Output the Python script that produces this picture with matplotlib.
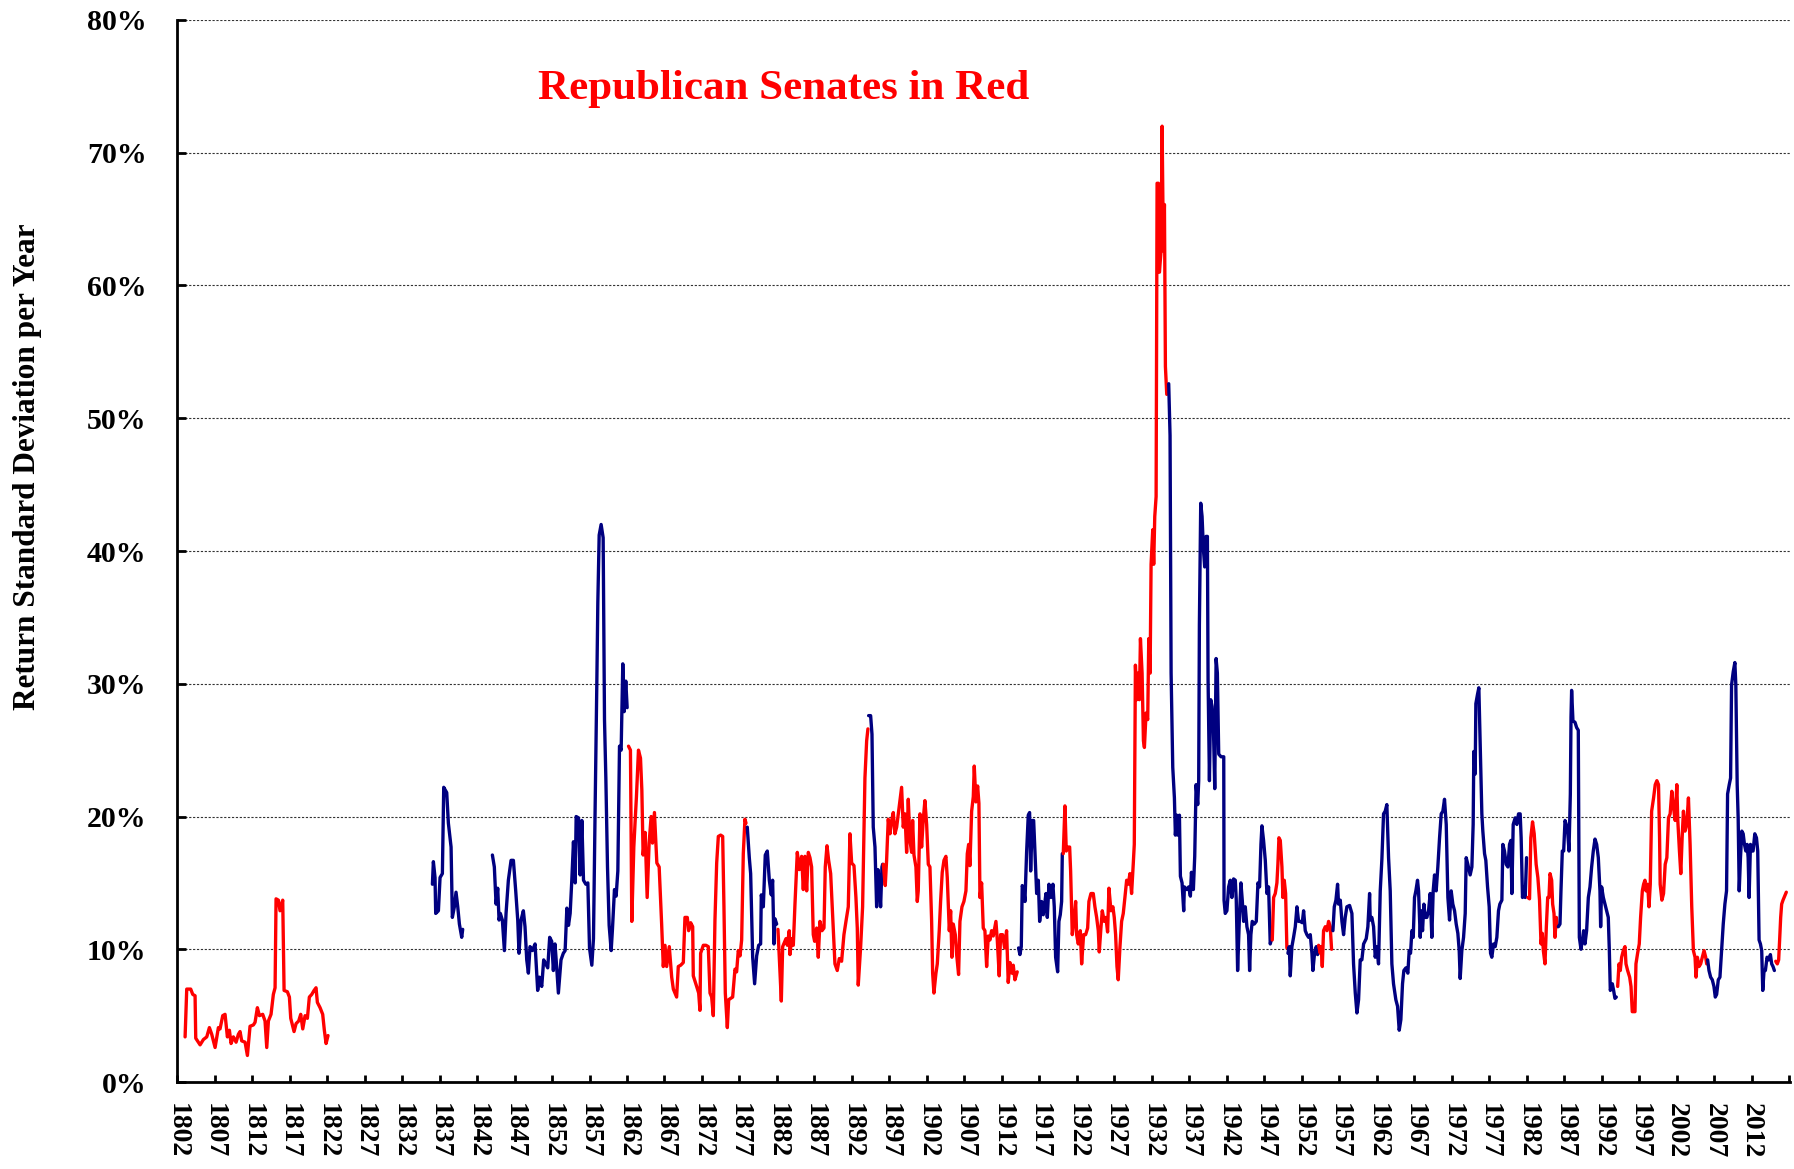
import numpy as np
import matplotlib
matplotlib.use("Agg")
import matplotlib.pyplot as plt

# Rolling return standard deviation (% per year), by era.
yr_1803 = [1803.07, 1803.29, 1803.82, 1804.09, 1804.40, 1804.49, 1805.07, 1805.51, 1805.96, 1806.31,
           1806.62, 1807.07, 1807.51, 1807.73, 1808.09, 1808.40, 1808.71, 1808.98, 1809.20, 1809.51,
           1809.87, 1810.18, 1810.40, 1810.62, 1811.07, 1811.38, 1811.73, 1812.18, 1812.40, 1812.71,
           1812.98, 1813.42, 1813.73, 1813.96, 1814.18, 1814.53, 1814.84, 1815.07, 1815.20, 1815.51,
           1815.73, 1816.09, 1816.27, 1816.71, 1816.98, 1817.16, 1817.60, 1817.87, 1818.22, 1818.49,
           1818.76, 1819.07, 1819.38, 1819.64, 1819.96, 1820.27, 1820.53, 1820.71, 1821.07, 1821.42,
           1821.64, 1821.87, 1822.13]
sd_1803 = [3.4, 7.0, 7.0, 6.6, 6.5, 3.3, 2.8, 3.2, 3.4, 4.1,
           3.6, 2.6, 4.1, 4.0, 5.0, 5.1, 3.4, 3.9, 2.9, 3.4,
           3.0, 3.6, 3.8, 3.1, 3.0, 2.0, 4.2, 4.3, 4.5, 5.6,
           5.0, 5.1, 4.6, 2.6, 4.6, 5.1, 6.6, 7.1, 13.8, 13.7,
           12.9, 13.7, 6.9, 6.8, 6.4, 4.8, 3.8, 4.4, 4.6, 5.1,
           4.0, 5.0, 4.8, 6.4, 6.6, 6.9, 7.1, 6.0, 5.6, 5.1,
           3.9, 2.9, 3.5]

yr_1836 = [1836.05, 1836.18, 1836.40, 1836.49, 1836.85, 1837.07, 1837.38, 1837.56, 1837.96, 1838.18,
           1838.54, 1838.71, 1838.98, 1839.20, 1839.43, 1839.65, 1839.96, 1840.09]
sd_1836 = [14.9, 16.6, 15.4, 12.7, 12.9, 15.4, 15.7, 22.2, 21.8, 19.5,
           17.7, 12.4, 13.2, 14.3, 13.2, 11.9, 10.9, 11.5]

yr_1844 = [1844.05, 1844.31, 1844.54, 1844.76, 1844.94, 1845.11, 1845.38, 1845.65, 1845.87, 1846.18,
           1846.54, 1846.85, 1847.16, 1847.43, 1847.60, 1847.87, 1848.18, 1848.40, 1848.63, 1848.85,
           1849.07, 1849.38, 1849.74, 1850.09, 1850.31, 1850.63, 1850.89, 1851.16, 1851.43, 1851.69,
           1851.96, 1852.18, 1852.40, 1852.63, 1852.85, 1853.20, 1853.51,
           1853.75, 1853.98, 1854.20, 1854.42, 1854.64, 1854.86, 1855.09, 1855.22, 1855.53, 1855.75,
           1855.98, 1856.20, 1856.51, 1856.78, 1857.00, 1857.31, 1857.53, 1857.75, 1857.98, 1858.11,
           1858.29, 1858.55, 1858.82, 1859.00, 1859.18, 1859.40, 1859.62, 1859.89, 1860.06, 1860.33,
           1860.55, 1860.78, 1861.00, 1861.22, 1861.44, 1861.62, 1861.84, 1862.02,
           1862.20, 1862.46, 1862.64, 1862.91, 1863.09, 1863.26, 1863.53, 1863.80, 1863.98, 1864.15,
           1864.42, 1864.69, 1864.95, 1865.22, 1865.40, 1865.66, 1865.98, 1866.29]
sd_1844 = [17.1, 16.2, 13.4, 14.6, 12.2, 12.7, 12.2, 9.9, 12.7, 15.2,
           16.7, 16.7, 14.4, 12.2, 9.7, 12.2, 12.9, 11.7, 9.2, 8.2,
           10.2, 9.9, 10.4, 6.9, 7.9, 7.2, 9.2, 8.9, 8.6, 10.9,
           10.6, 8.4, 10.4, 8.6, 6.7, 9.2, 9.7,
           9.9, 13.1, 11.8, 12.7, 15.2, 18.1, 15.0, 20.0, 19.9, 15.6,
           19.7, 15.2, 14.9, 15.0, 10.1, 8.8, 10.8, 20.6, 30.2, 36.1,
           41.2, 42.0, 41.0, 27.3, 22.9, 16.2, 11.8, 9.9, 11.5, 14.5,
           14.0, 15.9, 25.3, 25.0, 31.5, 27.9, 30.2, 28.2,
           25.3, 25.0, 12.1, 17.7, 19.7, 21.5, 25.0, 24.4, 22.0, 17.1,
           18.8, 13.9, 18.0, 20.0, 18.0, 20.3, 16.5, 16.2]

yr_1866 = [1866.62, 1866.84, 1867.07, 1867.29, 1867.64, 1867.96, 1868.18, 1868.62, 1868.84, 1869.16,
           1869.51, 1869.73, 1870.04, 1870.22, 1870.49, 1870.76, 1870.84, 1871.29, 1871.56, 1871.73,
           1871.82, 1872.18, 1872.53, 1872.84, 1873.07, 1873.29, 1873.51, 1873.73, 1873.96, 1874.18,
           1874.49, 1874.76, 1874.93, 1875.11, 1875.38, 1875.56, 1875.82, 1876.09, 1876.40, 1876.62,
           1876.84, 1877.07, 1877.29, 1877.51, 1877.73, 1877.87,
           1878.04, 1878.31, 1878.49, 1878.76, 1879.02, 1879.29, 1879.56, 1879.82, 1879.91, 1880.18,
           1880.44, 1880.71, 1880.98, 1881.24, 1881.42, 1881.60, 1881.73, 1881.96,
           1882.13, 1882.31, 1882.58, 1882.76, 1883.20, 1883.38, 1883.64, 1883.73, 1883.96, 1884.18,
           1884.40, 1884.71, 1884.98, 1885.29, 1885.51, 1885.73, 1885.96, 1886.18, 1886.40, 1886.62,
           1886.84, 1887.02, 1887.29, 1887.51, 1887.73, 1888.00, 1888.27, 1888.44, 1888.67, 1888.89,
           1889.16, 1889.42, 1889.73, 1890.04, 1890.31, 1890.62, 1890.93, 1891.20, 1891.51, 1891.73,
           1891.96, 1892.27, 1892.53, 1892.71, 1892.84, 1893.16, 1893.42, 1893.73, 1893.96, 1894.13,
           1894.22, 1894.49, 1894.67, 1894.84, 1895.07, 1895.29, 1895.47, 1895.64, 1895.82, 1896.00,
           1896.09,
           1896.18, 1896.44, 1896.62, 1896.84, 1897.07, 1897.29, 1897.51, 1897.73, 1897.96]
sd_1866 = [11.9, 8.7, 10.3, 8.7, 10.2, 7.9, 7.0, 6.4, 8.7, 8.8,
           9.0, 12.4, 12.4, 11.4, 12.0, 11.7, 8.0, 7.2, 6.7, 5.4,
           9.7, 10.3, 10.3, 10.2, 6.7, 6.4, 5.0, 12.2, 16.5, 18.5,
           18.6, 18.5, 13.2, 6.7, 4.1, 6.2, 6.3, 6.4, 8.5, 8.3,
           9.9, 9.5, 10.7, 17.2, 19.8, 19.5,
           19.2, 16.9, 15.7, 9.4, 7.4, 9.5, 10.3, 10.4, 14.1, 13.2,
           17.1, 17.4, 15.2, 14.1, 15.2, 10.4, 12.3, 11.9,
           11.5, 9.4, 6.1, 10.2, 10.8, 10.3, 11.4, 9.6, 10.8, 10.3,
           13.4, 17.3, 16.0, 17.0, 14.5, 17.0, 14.4, 17.3, 16.9, 16.2,
           11.1, 10.6, 11.6, 9.4, 12.1, 11.4, 11.6, 16.2, 17.8, 16.7,
           15.7, 12.6, 8.9, 8.4, 9.3, 9.1, 11.1, 12.1, 13.2, 18.7,
           16.5, 16.3, 13.9, 11.6, 7.3, 10.2, 13.2, 22.9, 25.7, 26.6,
           27.6, 27.6, 26.2, 19.2, 17.7, 13.2, 16.0, 15.2, 13.2, 16.2,
           16.4,
           16.4, 14.8, 16.7, 19.8, 18.7, 19.7, 20.3, 18.7, 19.2]

yr_1898 = [1898.62, 1898.84, 1899.07, 1899.29, 1899.51, 1899.73, 1899.96, 1900.09, 1900.27, 1900.53,
           1900.71, 1900.84, 1901.07, 1901.29, 1901.51, 1901.73, 1901.96, 1902.18, 1902.40, 1902.62,
           1902.76, 1902.93, 1903.20, 1903.38, 1903.64, 1903.82, 1904.04, 1904.27, 1904.53, 1904.71,
           1904.98, 1905.16, 1905.33, 1905.51, 1905.78, 1905.96, 1906.22, 1906.40, 1906.67, 1906.93,
           1907.20, 1907.38, 1907.56, 1907.73, 1907.96, 1908.18, 1908.31, 1908.53, 1908.76, 1908.93,
           1909.07, 1909.29, 1909.51, 1909.73, 1909.96, 1910.18, 1910.40, 1910.62, 1910.84, 1911.20,
           1911.38, 1911.64, 1911.82, 1912.09, 1912.36, 1912.62, 1912.84, 1913.07, 1913.33, 1913.51,
           1913.73, 1914.04,
           1914.22, 1914.40, 1914.58, 1914.71, 1914.93, 1915.07, 1915.29, 1915.51, 1915.69, 1915.83,
           1916.05, 1916.23, 1916.40, 1916.63, 1916.85, 1917.03, 1917.29, 1917.51, 1917.74, 1917.87,
           1918.05, 1918.27, 1918.54, 1918.80, 1918.98, 1919.16, 1919.43, 1919.60, 1919.78, 1919.96,
           1920.05,
           1920.18, 1920.40, 1920.58, 1920.85, 1921.03, 1921.16, 1921.38, 1921.65, 1921.83, 1921.96,
           1922.18, 1922.45, 1922.63, 1922.89, 1923.16, 1923.43, 1923.60, 1923.87, 1924.18, 1924.40,
           1924.63, 1924.85, 1924.98, 1925.20, 1925.38, 1925.65, 1925.87, 1926.09, 1926.27, 1926.54,
           1926.80, 1926.98, 1927.16, 1927.34, 1927.51, 1927.74, 1927.96, 1928.18, 1928.40, 1928.63,
           1928.85, 1929.07, 1929.29, 1929.51, 1929.65]
sd_1898 = [22.2, 19.2, 20.2, 17.3, 21.3, 18.2, 17.3, 19.7, 17.1, 16.2,
           13.6, 14.4, 20.2, 17.7, 19.8, 21.2, 19.4, 16.4, 16.2, 12.2,
           8.2, 6.7, 8.2, 8.9, 11.4, 13.6, 15.8, 16.7, 17.0, 15.4,
           11.4, 12.9, 9.4, 11.9, 11.1, 9.6, 8.1, 12.1, 13.2, 13.6,
           14.4, 17.2, 17.9, 16.3, 20.4, 21.5, 23.8, 21.1, 22.3, 21.0,
           13.9, 15.0, 11.6, 11.4, 8.7, 11.0, 10.7, 11.4, 11.0, 12.1,
           10.7, 8.0, 11.1, 11.1, 10.1, 11.4, 7.5, 9.0, 8.2, 8.8,
           7.7, 8.3,
           10.1, 9.6, 10.2, 14.8, 14.4, 13.6, 17.3, 20.1, 20.3, 15.9,
           19.7, 19.7, 17.4, 14.2, 15.2, 12.1, 13.6, 12.6, 13.6, 14.2,
           12.4, 14.9, 13.9, 14.9, 13.2, 9.4, 8.3, 12.1, 12.6, 13.6,
           17.2,
           17.2, 20.8, 17.4, 17.7, 17.7, 15.9, 11.1, 12.4, 13.6, 11.1,
           10.4, 11.4, 8.9, 11.1, 11.1, 11.6, 13.6, 14.2, 14.2, 13.2,
           12.4, 11.4, 9.8, 11.6, 12.9, 12.1, 12.4, 11.3, 14.6, 12.9,
           13.2, 12.4, 11.1, 8.7, 7.7, 10.2, 12.1, 12.7, 13.9, 15.2,
           14.9, 15.7, 14.2, 16.4, 17.9]

yr_1929 = [1929.80, 1929.98, 1930.11, 1930.33, 1930.47, 1930.69, 1930.87, 1931.00, 1931.22, 1931.44,
           1931.58, 1931.76, 1931.89, 1932.11, 1932.24, 1932.38, 1932.56, 1932.69, 1932.87, 1933.00,
           1933.22, 1933.36, 1933.53, 1933.67, 1933.80, 1933.98,
           1934.24, 1934.42, 1934.56, 1934.78, 1935.00, 1935.13, 1935.31, 1935.44, 1935.67, 1935.80,
           1936.02, 1936.24, 1936.33, 1936.64, 1936.91, 1937.13, 1937.27, 1937.53, 1937.71, 1937.89,
           1938.11, 1938.24, 1938.33, 1938.51, 1938.69, 1938.87, 1939.04, 1939.22, 1939.40, 1939.49,
           1939.67, 1939.84, 1940.02, 1940.20, 1940.38, 1940.56, 1940.73, 1940.91, 1941.22, 1941.58,
           1941.62, 1941.78, 1942.00, 1942.23, 1942.45, 1942.67, 1942.89, 1943.12, 1943.25, 1943.43,
           1943.69, 1943.87, 1944.05, 1944.23, 1944.45, 1944.67, 1944.89, 1945.03, 1945.20, 1945.38,
           1945.65, 1945.92, 1946.14, 1946.36, 1946.54, 1946.67, 1946.89, 1947.12, 1947.34, 1947.56,
           1947.78, 1947.92]
sd_1929 = [31.4, 28.8, 30.8, 28.8, 33.4, 30.8, 25.7, 25.2, 27.8, 27.3,
           33.4, 30.8, 39.0, 41.6, 39.0, 42.6, 44.1, 67.7, 67.7, 61.0,
           62.6, 72.0, 62.6, 66.1, 53.9, 51.8,
           52.6, 48.7, 30.8, 23.7, 21.4, 18.6, 20.1, 18.6, 20.1, 15.5,
           15.0, 12.9, 14.7, 14.5, 14.7, 14.0, 15.8, 14.5, 17.0, 22.4,
           20.9, 22.7, 34.4, 43.6, 42.6, 40.1, 38.8, 41.1, 41.1, 30.3,
           22.7, 28.8, 28.3, 26.8, 22.1, 31.9, 30.8, 24.7, 24.5, 24.5,
           13.7, 12.7, 12.9, 14.7, 15.2, 13.9, 15.3, 15.2, 13.7, 8.4,
           12.7, 15.0, 13.7, 12.1, 13.2, 11.7, 11.1, 8.4, 11.1, 12.1,
           11.9, 12.1, 15.0, 14.7, 17.9, 19.3, 18.2, 16.7, 14.2, 14.7,
           10.4, 10.7]

yr_1948 = [1948.05, 1948.23, 1948.45, 1948.67, 1948.80, 1948.94, 1949.12, 1949.34, 1949.47, 1949.65,
           1949.83, 1950.00,
           1950.14, 1950.32, 1950.45, 1950.67, 1950.89, 1951.12, 1951.34, 1951.56, 1951.78, 1952.05,
           1952.23, 1952.45, 1952.67, 1952.89, 1953.12, 1953.34, 1953.47, 1953.69, 1953.92, 1954.09,
           1954.23, 1954.45, 1954.58, 1954.72, 1954.89, 1955.12, 1955.34, 1955.56, 1955.78, 1955.96,
           1956.14, 1956.32, 1956.54, 1956.76, 1956.89, 1957.12, 1957.34, 1957.56, 1957.78, 1958.00,
           1958.36, 1958.67, 1958.89, 1959.12, 1959.34, 1959.56, 1959.78, 1960.00, 1960.23, 1960.58,
           1960.80, 1961.03,
           1961.11, 1961.33, 1961.56, 1961.78, 1962.00, 1962.22, 1962.45, 1962.67, 1962.89, 1963.11,
           1963.33, 1963.56, 1963.78, 1964.00, 1964.22, 1964.53, 1964.76, 1964.98, 1965.20, 1965.42,
           1965.60, 1965.87, 1966.13, 1966.31, 1966.49, 1966.67, 1966.85, 1967.02, 1967.20, 1967.42,
           1967.56, 1967.78, 1967.91, 1968.09, 1968.27, 1968.45, 1968.67, 1968.89, 1969.11, 1969.33,
           1969.51, 1969.69, 1969.91, 1970.13, 1970.36, 1970.58, 1970.80, 1971.02, 1971.25, 1971.47,
           1971.69, 1971.91, 1972.13, 1972.36, 1972.58, 1972.80, 1972.98, 1973.11, 1973.33, 1973.56,
           1973.78, 1973.91, 1974.13, 1974.44, 1974.67, 1974.84, 1974.93, 1975.11, 1975.20, 1975.42,
           1975.60, 1975.78, 1976.00, 1976.13, 1976.36, 1976.53, 1976.76, 1976.98, 1977.16, 1977.33,
           1977.56, 1977.78, 1978.00, 1978.22, 1978.40, 1978.67, 1978.80, 1979.02, 1979.24, 1979.47,
           1979.69, 1979.87, 1980.00, 1980.18, 1980.45, 1980.67, 1980.89, 1981.11, 1981.24, 1981.42,
           1981.60, 1981.78, 1981.96]
sd_1948 = [10.7, 13.9, 14.2, 15.0, 16.4, 18.4, 18.2, 16.2, 13.9, 15.2,
           14.2, 10.1,
           9.7, 10.2, 8.0, 10.2, 10.9, 11.7, 13.2, 12.1, 12.1, 12.0,
           12.9, 11.4, 11.1, 10.9, 11.1, 9.7, 8.4, 9.7, 10.2, 9.6,
           10.3, 9.7, 10.2, 8.7, 11.4, 11.7, 11.4, 12.1, 11.7, 10.0,
           11.4, 13.2, 13.7, 14.9, 13.4, 13.7, 12.1, 11.1, 12.4, 13.2,
           13.3, 12.7, 8.9, 6.7, 5.2, 6.2, 9.2, 9.2, 10.4, 10.8,
           11.7, 14.2,
           12.2, 12.4, 11.7, 9.4, 10.2, 8.9, 14.4, 16.8, 20.2, 20.4,
           20.9, 16.9, 14.4, 8.9, 7.4, 6.2, 5.7, 3.9, 4.7, 7.4,
           8.4, 8.6, 8.2, 9.9, 9.7, 11.4, 10.9, 13.9, 14.4, 15.2,
           14.4, 10.9, 12.9, 11.4, 13.4, 12.4, 12.4, 12.9, 14.2, 10.9,
           14.4, 15.6, 14.4, 16.2, 18.4, 20.2, 20.4, 21.3, 19.4, 13.9,
           12.2, 14.4, 13.4, 12.9, 11.9, 11.2, 9.9, 7.8, 9.9, 10.9,
           12.7, 16.9, 16.4, 15.6, 16.2, 19.4, 24.9, 23.2, 28.5, 29.2,
           29.7, 25.4, 20.2, 18.9, 17.2, 16.7, 14.7, 13.2, 9.7, 9.4,
           10.4, 10.2, 10.9, 12.9, 13.4, 13.7, 17.9, 17.4, 16.4, 16.2,
           17.9, 18.2, 14.2, 19.4, 19.9, 19.4, 20.2, 20.2, 18.4, 13.9,
           14.7, 13.9, 16.9]

yr_1982 = [1982.13, 1982.36, 1982.53, 1982.76, 1982.98, 1983.24, 1983.47, 1983.69, 1983.89, 1984.06,
           1984.20, 1984.42, 1984.60, 1984.78, 1984.95, 1985.09, 1985.31, 1985.44, 1985.62, 1985.75,
           1985.93, 1986.06,
           1986.20, 1986.42, 1986.55, 1986.73, 1986.91, 1987.09, 1987.26, 1987.44, 1987.62, 1987.80,
           1987.89, 1987.97, 1988.15, 1988.42, 1988.64, 1988.86, 1989.00, 1989.22, 1989.40, 1989.57,
           1989.75, 1989.97, 1990.20, 1990.42, 1990.64, 1990.86, 1991.09, 1991.31, 1991.53, 1991.75,
           1991.84, 1991.97, 1992.20, 1992.42, 1992.64, 1992.86, 1993.00, 1993.13, 1993.40, 1993.57,
           1993.75, 1993.93,
           1994.11, 1994.29, 1994.46, 1994.64, 1994.86, 1995.09, 1995.22, 1995.44, 1995.71, 1995.89,
           1996.06, 1996.42, 1996.55, 1996.77, 1996.99, 1997.17, 1997.40, 1997.57, 1997.75, 1997.89,
           1998.11, 1998.29, 1998.46, 1998.64, 1998.90, 1999.12, 1999.34, 1999.56, 1999.70, 1999.78,
           2000.01, 2000.23, 2000.45, 2000.67, 2000.89, 2001.11, 2001.33, 2001.55, 2001.78, 2002.00,
           2002.13, 2002.35, 2002.53, 2002.71, 2002.88, 2003.10, 2003.32, 2003.55, 2003.77, 2003.99,
           2004.21, 2004.43, 2004.56, 2004.74, 2004.96, 2005.18, 2005.40, 2005.63, 2005.85, 2005.98,
           2006.11, 2006.29, 2006.51, 2006.73, 2006.95, 2007.13, 2007.31, 2007.53, 2007.75, 2007.97,
           2008.19, 2008.41, 2008.63, 2008.77, 2008.99, 2009.17, 2009.30, 2009.52, 2009.74, 2009.87,
           2010.05, 2010.18, 2010.32, 2010.49, 2010.67, 2010.85, 2011.02, 2011.20, 2011.38, 2011.51,
           2011.64, 2011.82, 2012.00, 2012.17, 2012.40, 2012.62, 2012.79, 2012.97, 2013.15, 2013.32,
           2013.46, 2013.63, 2013.81, 2014.03, 2014.25, 2014.48, 2014.65, 2014.83, 2015.01,
           2015.19, 2015.40, 2015.58, 2015.71, 2015.85, 2015.98, 2016.16, 2016.38, 2016.60]
sd_1982 = [13.9, 13.8, 18.4, 19.6, 18.7, 16.4, 15.4, 13.7, 10.4, 11.2,
           9.9, 8.9, 11.7, 13.9, 13.9, 15.7, 15.2, 13.4, 12.7, 10.9,
           12.4, 11.7,
           11.7, 11.9, 14.4, 17.4, 17.4, 19.7, 19.4, 18.9, 17.4, 21.7,
           27.5, 29.5, 27.2, 27.1, 26.7, 26.5, 10.9, 10.0, 10.7, 11.4,
           10.4, 11.4, 13.9, 14.7, 16.2, 17.4, 18.3, 17.9, 16.9, 14.4,
           11.7, 14.7, 13.9, 13.4, 12.9, 12.4, 9.9, 6.9, 7.4, 6.9,
           6.3, 6.4,
           7.2, 8.9, 8.4, 9.4, 9.9, 10.2, 8.9, 8.4, 7.9, 7.2,
           5.3, 5.3, 8.9, 9.7, 10.4, 12.4, 14.4, 14.9, 15.2, 14.4,
           14.9, 13.2, 14.9, 20.4, 21.4, 22.4, 22.7, 22.4, 18.4, 14.9,
           13.7, 14.2, 16.4, 16.9, 19.9, 20.2, 21.9, 20.7, 19.7, 22.4,
           19.7, 17.4, 15.7, 18.4, 20.4, 18.9, 19.4, 21.4, 17.9, 13.2,
           9.9, 9.4, 7.9, 9.4, 8.7, 8.9, 9.4, 9.9, 9.4, 8.9,
           9.2, 8.4, 7.9, 7.7, 7.2, 6.4, 6.6, 7.7, 7.9, 9.9,
           11.9, 13.4, 14.4, 21.7, 22.4, 22.9, 29.9, 30.9, 31.6, 29.9,
           22.4, 19.9, 14.4, 16.9, 18.9, 18.7, 17.9, 17.4, 17.9, 16.9,
           13.9, 17.9, 17.4, 17.4, 18.7, 18.4, 17.4, 10.7, 10.4, 9.9,
           6.9, 8.4, 8.4, 9.4, 9.2, 9.6, 8.9, 8.7, 8.4,
           9.1, 8.9, 9.2, 10.7, 12.4, 13.4, 13.7, 14.0, 14.3]

# Senate control: start year of each period and the majority ('' = no data).
period_start = [1803.0, 1822.5, 1836.0, 1840.5, 1844.0, 1862.1, 1877.95, 1882.05, 1894.17,
                1896.13, 1914.13, 1920.1, 1934.1, 1948.0, 1950.07, 1954.16, 1956.05, 1982.05,
                1986.13, 1994.0, 2006.05, 2015.1]
period_party = ['R', '', 'D', '', 'D', 'R', 'D', 'R', 'D',
                'R', 'D', 'R', 'D', 'R', 'D', 'R', 'D', 'R',
                'D', 'R', 'D', 'R']

x_tick_years = list(range(1802, 2018, 5))
y_ticks = [0, 10, 20, 30, 40, 50, 60, 70, 80]

party_color = {'R': '#FF0000', 'D': '#000080'}

year_blocks = [yr_1803, yr_1836, yr_1844, yr_1866, yr_1898, yr_1929, yr_1948, yr_1982]
sd_blocks = [sd_1803, sd_1836, sd_1844, sd_1866, sd_1898, sd_1929, sd_1948, sd_1982]
for yb, sb in zip(year_blocks, sd_blocks):
    assert len(yb) == len(sb), (yb[0], len(yb), len(sb))

year = np.concatenate(year_blocks)
vol = np.concatenate(sd_blocks)

plt.rcParams['font.family'] = ['Liberation Serif', 'DejaVu Serif']
plt.rcParams['font.weight'] = 'bold'

fig = plt.figure(figsize=(17.94, 11.69), dpi=100)
ax = fig.add_axes([0.0987, 0.0744, 0.8991, 0.9085])

# One line per Senate period, coloured by majority party
period_idx = np.searchsorted(period_start, year, side='right') - 1
for k, party in enumerate(period_party):
    if not party:
        continue
    sel = period_idx == k
    if sel.any():
        ax.plot(year[sel], vol[sel], color=party_color[party], lw=2.4,
                solid_joinstyle='round', solid_capstyle='round', zorder=3)

ax.set_xlim(1802, 2017.1)
ax.set_ylim(0, 80)

ax.set_yticks(y_ticks)
ax.set_yticklabels([f'{t}%' for t in y_ticks])
ax.set_xticks(x_tick_years)
ax.set_xticklabels([str(y) if y <= 2012 else '' for y in x_tick_years])

ax.tick_params(axis='y', direction='in', length=6.5, width=2, pad=22, labelsize=21.5)
ax.tick_params(axis='x', direction='in', length=5, width=2, pad=15, labelsize=20,
               labelrotation=-90)
for lbl in ax.get_xticklabels() + ax.get_yticklabels():
    lbl.set_fontweight('bold')

ax.yaxis.grid(True, color='#333333', linestyle=(0, (2, 1.5)), linewidth=0.8)
ax.xaxis.grid(False)
ax.set_axisbelow(True)

for side in ('top', 'right'):
    ax.spines[side].set_visible(False)
for side in ('left', 'bottom'):
    ax.spines[side].set_linewidth(2.0)
    ax.spines[side].set_color('black')

ax.text(0.376, 0.935, 'Republican Senates in Red', transform=ax.transAxes,
        color='#FF0000', fontsize=31, fontweight='bold', ha='center', va='center')

fig.text(0.0153, 0.601, 'Return Standard Deviation per Year', rotation=90,
         fontsize=22.5, fontweight='bold', ha='center', va='center')

fig.savefig('out.png', dpi=100)
